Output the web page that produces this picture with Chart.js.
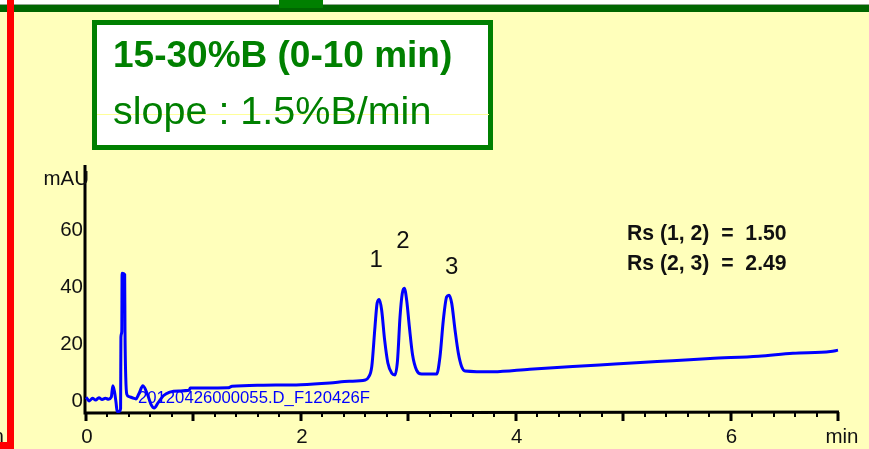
<!DOCTYPE html>
<html><head><meta charset="utf-8">
<script src="https://cdn.jsdelivr.net/npm/chart.js@4.4.0/dist/chart.umd.min.js"></script>
<style>html,body{margin:0;padding:0;background:#FFFFBB;overflow:hidden}canvas{display:block}</style>
</head><body>
<canvas id="c" width="869" height="449"></canvas>
<script>
// ---- data ----
const timeMin = [
  0.00,0.03,0.06,0.09,0.12,0.15,0.18,0.21,0.235,0.25,0.265,0.28,0.29,0.31,0.322,0.325,0.333,0.336,0.36,0.363,0.37,0.38,
  0.40,0.43,0.465,0.49,0.53,0.57,0.605,0.635,0.67,0.72,0.78,0.87,0.96,0.97,1.10,1.32,1.36,1.65,2.00,2.27,2.45,2.60,
  2.63,2.66,2.69,2.71,2.73,2.752,2.78,2.81,2.846,2.876,2.90,2.923,2.944,2.963,2.985,3.01,3.04,3.077,3.124,
  3.264,3.295,3.326,3.357,3.379,3.404,3.435,3.466,3.497,3.528,3.79,4.13,4.78,5.16,5.46,5.81,6.26,6.58,6.93,7.00
];
const signalMAU = [
  1.0,-0.3,0.6,0.0,0.8,0.2,0.6,0.3,1.0,5.0,3.0,-1.0,-4.0,-4.0,-3.0,22.0,24.0,44.5,44.0,24.0,8.0,2.0,
  1.2,0.8,0.4,2.0,5.0,2.2,-1.5,-2.8,-1.0,1.5,2.8,3.2,3.4,4.2,4.2,4.3,4.8,5.2,5.4,6.0,6.6,7.0,
  8.0,11.7,25.7,34.0,35.3,31.6,21.0,13.0,9.4,8.8,14.0,29.2,37.4,39.2,35.0,25.7,15.8,10.5,9.1,
  9.1,15.2,28.0,36.2,36.8,34.0,24.6,16.4,11.7,10.2,9.9,10.8,12.3,13.2,13.8,14.6,15.4,16.4,17.0,17.5
];
const xTickLabels = [0, 2, 4, 6];
const yTickLabels = [0, 20, 40, 60];
const xUnit = 'min';
const yUnit = 'mAU';
const peakNumbers = ['1', '2', '3'];
const resolutionLines = ['Rs (1, 2)  =  1.50', 'Rs (2, 3)  =  2.49'];
const headerLines = ['15-30%B (0-10 min)', 'slope : 1.5%B/min'];
const traceLabel = '20120426000055.D_F120426F';

const FONT = '"Liberation Sans", Arial, sans-serif';

const decor = {
  id: 'decor',
  beforeDraw(chart) {
    const ctx = chart.ctx;
    ctx.save();
    ctx.fillStyle = '#FFFFBB';
    ctx.fillRect(0, 0, 869, 449);
    ctx.fillStyle = '#FFFFFF';
    ctx.fillRect(0, 0, 869, 4);
    ctx.fillStyle = '#8FA88F';
    ctx.fillRect(0, 4, 869, 1);
    ctx.fillStyle = '#006600';
    ctx.fillRect(0, 5, 869, 7);
    ctx.fillStyle = '#008000';
    ctx.fillRect(279, 0, 44, 8);
    // header box
    ctx.fillStyle = '#FFFFFF';
    ctx.fillRect(92, 20, 401, 130);
    ctx.strokeStyle = '#008000';
    ctx.lineWidth = 5;
    ctx.strokeRect(94.5, 22.5, 396, 125);
    ctx.fillStyle = '#FFFF99';
    ctx.fillRect(97, 114, 392, 1);
    ctx.fillStyle = '#008000';
    ctx.textBaseline = 'alphabetic';
    ctx.textAlign = 'left';
    ctx.font = 'bold 37px ' + FONT;
    ctx.fillText(headerLines[0], 113, 67);
    ctx.font = '39.5px ' + FONT;
    ctx.fillText(headerLines[1], 113, 124);
    // axes
    const xs = chart.scales.x, ys = chart.scales.y;
    const x0 = xs.getPixelForValue(0), xEnd = xs.getPixelForValue(7);
    const yBase = ys.getPixelForValue(ys.min);
    ctx.strokeStyle = '#000';
    ctx.lineWidth = 3;
    ctx.beginPath();
    ctx.moveTo(x0 - 1, ys.getPixelForValue(ys.max) - 1);
    ctx.lineTo(x0 - 1, yBase + 1);
    ctx.lineTo(xEnd + 1, yBase);
    ctx.stroke();
    for (let i = 0; i <= 35; i++) {
      const t = i * 0.2;
      const px = Math.round(xs.getPixelForValue(t));
      const major = i % 5 === 0;
      ctx.lineWidth = major ? 3 : 2;
      ctx.beginPath();
      ctx.moveTo(px, yBase);
      ctx.lineTo(px, yBase + (major ? 9 : 5));
      ctx.stroke();
    }
    ctx.fillStyle = '#111';
    ctx.font = '20.5px ' + FONT;
    ctx.textAlign = 'center';
    ctx.textBaseline = 'alphabetic';
    xTickLabels.forEach(v => ctx.fillText(String(v), xs.getPixelForValue(v) + 1, 443));
    ctx.fillText(xUnit, 842, 443);
    ctx.textAlign = 'right';
    ctx.textBaseline = 'middle';
    yTickLabels.forEach(v => {
      const py = ys.getPixelForValue(v);
      ctx.fillText(String(v), 83, py + 1);
    });
    ctx.fillText(yUnit, 89, 179);
    // partial unit text of neighbouring panel at the left edge
    ctx.textBaseline = 'alphabetic';
    ctx.fillText(xUnit, 4, 443);
    ctx.restore();
  },
  afterDatasetsDraw(chart) {
    const ctx = chart.ctx;
    const xs = chart.scales.x, ys = chart.scales.y;
    ctx.save();
    ctx.fillStyle = '#0000FF';
    ctx.font = '16.7px ' + FONT;
    ctx.textAlign = 'left';
    ctx.textBaseline = 'alphabetic';
    ctx.fillText(traceLabel, 138, 403);
    // peak numbers
    ctx.fillStyle = '#111';
    ctx.font = '24px ' + FONT;
    ctx.textAlign = 'center';
    ctx.textBaseline = 'middle';
    const anchors = [[2.70, 49.1], [2.95, 55.8], [3.405, 46.7]];
    peakNumbers.forEach((p, i) => ctx.fillText(p, xs.getPixelForValue(anchors[i][0]), ys.getPixelForValue(anchors[i][1])));
    // resolution text
    ctx.font = 'bold 21.2px ' + FONT;
    ctx.textAlign = 'left';
    ctx.textBaseline = 'middle';
    ctx.fillText(resolutionLines[0], 627, 234);
    ctx.fillText(resolutionLines[1], 627, 264);
    ctx.restore();
  },
  afterDraw(chart) {
    const ctx = chart.ctx;
    ctx.save();
    ctx.fillStyle = '#FF0000';
    ctx.fillRect(7, 0, 7, 449);
    ctx.fillRect(0, 442, 14, 7);
    ctx.restore();
  }
};

new Chart(document.getElementById('c'), {
  type: 'line',
  data: {
    datasets: [{
      data: timeMin.map((t, i) => ({ x: t, y: signalMAU[i] })),
      borderColor: '#0000FF',
      borderWidth: 3,
      pointRadius: 0,
      fill: false,
      cubicInterpolationMode: 'monotone',
      clip: false
    }]
  },
  options: {
    responsive: false,
    animation: false,
    devicePixelRatio: 1,
    layout: { padding: { left: 86, right: 31, top: 166, bottom: 37 } },
    plugins: { legend: { display: false }, tooltip: { enabled: false } },
    scales: {
      x: { type: 'linear', min: 0, max: 7, display: false },
      y: { type: 'linear', min: -4.2, max: 82.1, display: false }
    }
  },
  plugins: [decor]
});
</script>
</body></html>
